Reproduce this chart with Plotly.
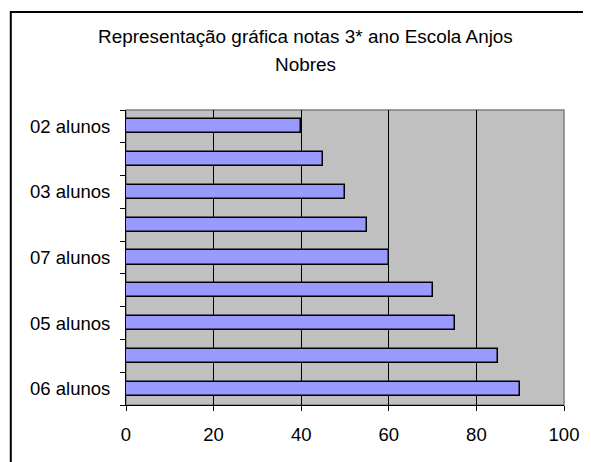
import plotly.graph_objects as go

# Data (bottom to top, as in the source category order)
categories = ["06 alunos", "", "05 alunos", "", "07 alunos", "", "03 alunos", "", "02 alunos"]
values = [90, 85, 75, 70, 60, 55, 50, 45, 40]
x_ticks = [0, 20, 40, 60, 80, 100]
grid_vals = [20, 40, 60, 80]
title_lines = ["Representação gráfica notas 3* ano Escola Anjos", "Nobres"]

OFF = 8  # page body margin
W, H = 591 - OFF, 462 - OFF
L, R, T, B = 126 - OFF, 567 - OFF, 110 - OFF, 405 - OFF
pw, ph = R - L, B - T

def px(x):
    return (x - OFF - L) / pw

def py(y):
    return (B - (y - OFF)) / ph

pos = list(range(len(categories)))
label_pos = [p for p, c in zip(pos, categories) if c]
label_txt = [c for c in categories if c]

font = "Liberation Sans, Arial, sans-serif"
fs = 18.5

fig = go.Figure(go.Bar(
    x=values, y=pos, orientation="h", width=0.43,
    marker=dict(color="#9999FF", line=dict(color="black", width=1.5)),
    hoverinfo="skip",
))

fig.update_layout(
    width=W, height=H,
    margin=dict(l=L, r=W - R, t=T, b=H - B, pad=0),
    paper_bgcolor="white", plot_bgcolor="#C0C0C0",
    showlegend=False,
    font=dict(family=font, size=fs, color="black"),
    bargap=0,
)
fig.update_xaxes(
    range=[0, 100], tickvals=x_ticks, ticks="outside", ticklen=5, tickcolor="black",
    showgrid=False,
    minor=dict(tickvals=grid_vals, showgrid=True, gridcolor="black", gridwidth=1, ticks=""),
    showline=True, linecolor="black", linewidth=1, zeroline=False,
    tickfont=dict(family=font, size=fs, color="black"), ticklabelstandoff=8,
    fixedrange=True,
)
fig.update_yaxes(
    range=[-0.5, len(categories) - 0.5], tickvals=label_pos, ticktext=label_txt,
    ticks="outside", ticklen=5, tickcolor="rgba(0,0,0,0)",
    showgrid=False, zeroline=False,
    showline=True, linecolor="black", linewidth=1,
    minor=dict(tickvals=[p - 0.5 for p in pos] + [len(pos) - 0.5], ticks="outside",
               ticklen=5, tickcolor="black", showgrid=False),
    tickfont=dict(family=font, size=fs, color="black"), ticklabelstandoff=6,
    fixedrange=True,
)

# plot area border (gray top/right)
fig.add_shape(type="rect", xref="paper", yref="paper", x0=0, x1=1, y0=0, y1=1,
              line=dict(color="#808080", width=1.5), layer="below")
# chart outer border
fig.add_shape(type="rect", xref="paper", yref="paper",
              x0=px(10), x1=px(591 + 30), y0=py(12), y1=py(462 + 30),
              line=dict(color="black", width=2))

for line, yy in zip(title_lines, [37, 64]):
    fig.add_annotation(text=line, xref="paper", yref="paper", x=px(307), y=py(yy),
                       xanchor="center", yanchor="middle", showarrow=False,
                       font=dict(family=font, size=18.9, color="black"))

fig.write_html("out.html")
